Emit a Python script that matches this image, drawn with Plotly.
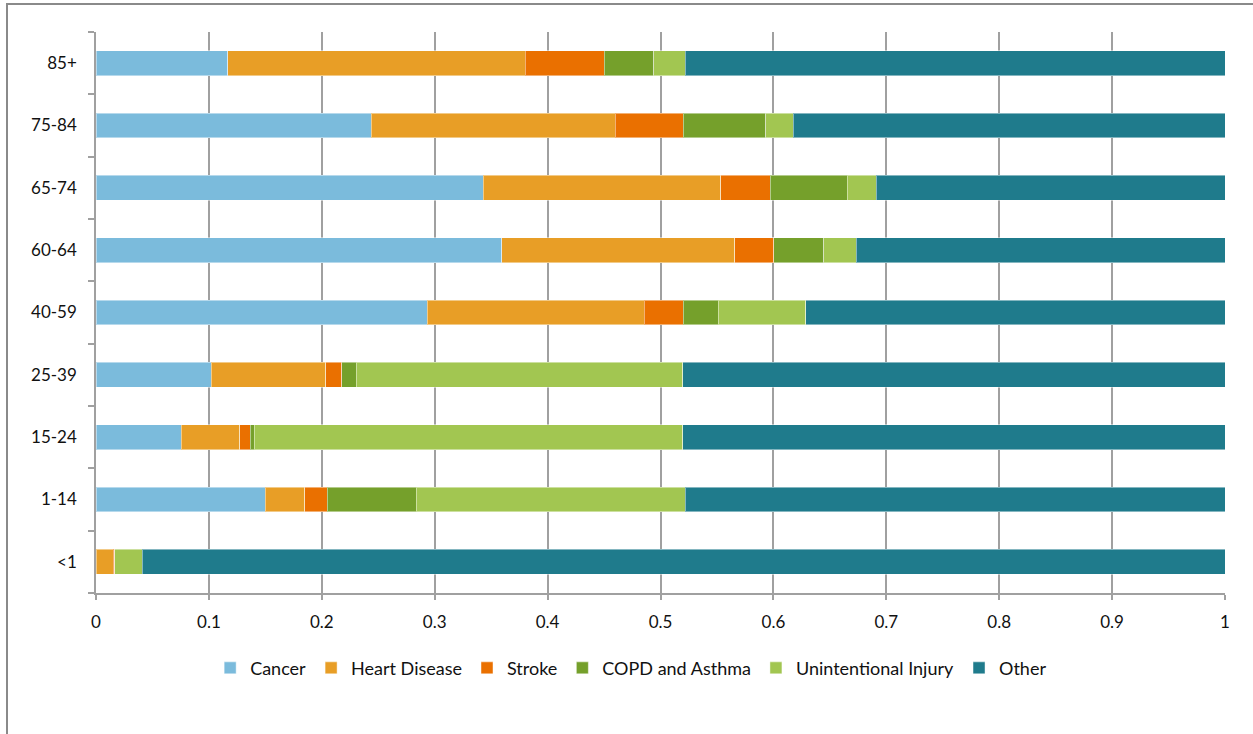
import plotly.graph_objects as go

age_groups = ["<1", "1-14", "15-24", "25-39", "40-59", "60-64", "65-74", "75-84", "85+"]

cancer = [0.000, 0.1497, 0.0756, 0.1019, 0.2935, 0.3593, 0.3431, 0.2436, 0.1165]
heart_disease = [0.0153, 0.0351, 0.0519, 0.1015, 0.1919, 0.2064, 0.2102, 0.2161, 0.2635]
stroke = [0.0015, 0.0201, 0.0089, 0.0142, 0.0348, 0.0348, 0.0437, 0.0605, 0.0700]
copd_asthma = [0.000, 0.0788, 0.0036, 0.0130, 0.0310, 0.0443, 0.0685, 0.0732, 0.0440]
unintentional_injury = [0.0242, 0.2380, 0.3799, 0.2893, 0.0774, 0.0284, 0.0254, 0.0243, 0.0280]
other = [0.9590, 0.4783, 0.4801, 0.4801, 0.3714, 0.3268, 0.3091, 0.3823, 0.4780]

series = [
    ("Cancer", cancer, "#7BBBDC"),
    ("Heart Disease", heart_disease, "#E89E26"),
    ("Stroke", stroke, "#EA7000"),
    ("COPD and Asthma", copd_asthma, "#75A02B"),
    ("Unintentional Injury", unintentional_injury, "#A2C651"),
    ("Other", other, "#1F7B8C"),
]

fig = go.Figure()
for name, vals, color in series:
    fig.add_trace(go.Bar(
        y=age_groups, x=vals, name=name, orientation="h",
        marker=dict(color=color, line=dict(color="rgba(255,255,255,0.45)", width=1)),
    ))

font_family = "Lato, 'Open Sans', sans-serif"
fig.update_layout(
    barmode="stack",
    bargap=0.6,
    width=1253, height=734,
    margin=dict(l=96, r=28, t=32, b=141),
    paper_bgcolor="white", plot_bgcolor="white",
    font=dict(family=font_family, size=17, color="#111"),
    legend=dict(orientation="h", x=0.474, xanchor="center", y=-0.134, yanchor="middle",
                font=dict(size=18), itemwidth=30, traceorder="normal"),
    xaxis=dict(range=[0, 1], showgrid=True, gridcolor="#a0a0a0",
               gridwidth=1.5, showline=True, linecolor="#a0a0a0", linewidth=1.5,
               ticks="outside", ticklen=5, tickcolor="#a0a0a0", tickwidth=1.5,
               zeroline=False, ticklabelstandoff=8,
               tickvals=[0, 0.1, 0.2, 0.3, 0.4, 0.5, 0.6, 0.7, 0.8, 0.9, 1],
               ticktext=["0", "0.1", "0.2", "0.3", "0.4", "0.5", "0.6", "0.7", "0.8", "0.9", "1"]),
    yaxis=dict(categoryorder="array", categoryarray=age_groups, showline=True,
               linecolor="#a0a0a0", linewidth=1.5, ticks="outside", tickson="boundaries",
               ticklen=6, tickcolor="#a0a0a0", tickwidth=1.5, showgrid=False,
               ticklabelstandoff=14),
    shapes=[dict(type="rect", xref="paper", yref="paper",
                 x0=(7 - 96) / 1129, x1=1.2, y0=-0.6, y1=(593 - 4) / 561,
                 line=dict(color="#8a8a8a", width=2), fillcolor="rgba(0,0,0,0)", layer="below")],
)

fig.write_html("out.html", config={"displayModeBar": False},
               post_script="document.body.style.margin='0';document.body.style.padding='0';")
